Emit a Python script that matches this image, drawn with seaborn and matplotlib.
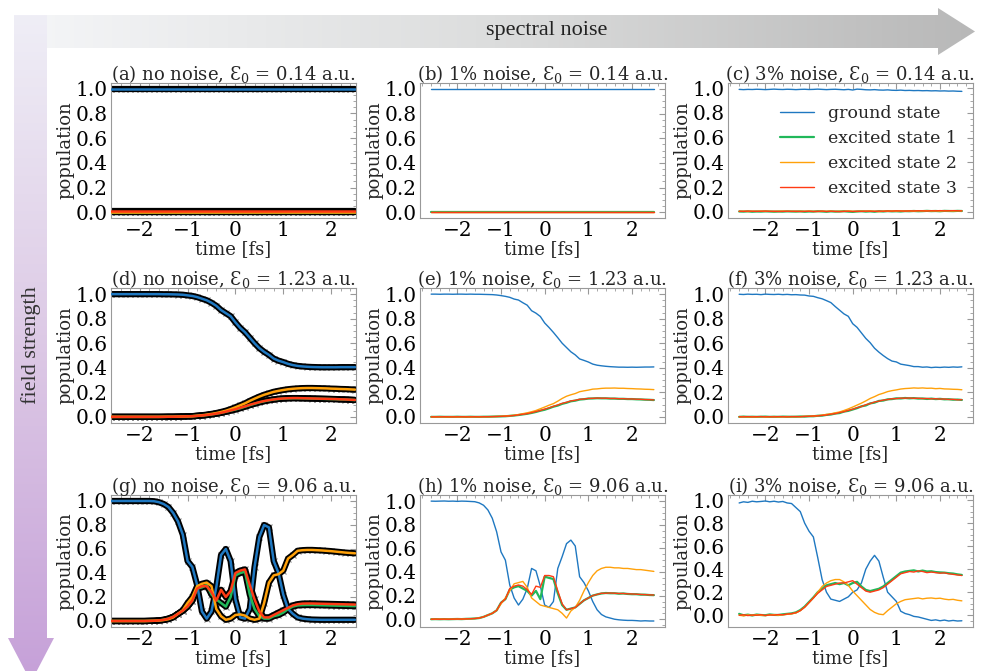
import numpy as np
import matplotlib
matplotlib.use("Agg")
import matplotlib.pyplot as plt
import seaborn as sns
from matplotlib.colors import LinearSegmentedColormap
from matplotlib.patches import Polygon
from matplotlib.ticker import AutoMinorLocator

# time grid (fs), shared by every curve
time_fs = [-2.6, -2.5, -2.4, -2.3, -2.2, -2.1, -2.0, -1.9, -1.8, -1.7, -1.6, -1.5, -1.4,
           -1.3, -1.2, -1.1, -1.0, -0.9, -0.8, -0.7, -0.6, -0.5, -0.4, -0.3, -0.2, -0.1,
           0.0, 0.1, 0.2, 0.3, 0.4, 0.5, 0.6, 0.7, 0.8, 0.9, 1.0, 1.1, 1.2,
           1.3, 1.4, 1.5, 1.6, 1.7, 1.8, 1.9, 2.0, 2.1, 2.2, 2.3, 2.4, 2.5]

state_names = ["ground state", "excited state 1", "excited state 2", "excited state 3"]
state_colors = ["#1f78c1", "#21b85a", "#ffa10a", "#ff3b14"]

# (a) no noise, E0 = 0.14
a_ground = [0.997] * 52
a_exc1 = [0.004] * 52
a_exc2 = [0.006] * 52
a_exc3 = [0.009] * 52

# (b) 1% noise, E0 = 0.14
b_ground = [0.998] * 52
b_exc1 = [0.004] * 52
b_exc2 = [0.005] * 52
b_exc3 = [0.006] * 52

# (c) 3% noise, E0 = 0.14
c_ground = [0.99, 0.988, 0.99, 0.989, 0.991, 0.99, 0.988, 0.99, 0.992, 0.99, 0.989, 0.991, 0.99,
            0.988, 0.99, 0.991, 0.989, 0.99, 0.992, 0.99, 0.988, 0.99, 0.991, 0.989, 0.987, 0.99,
            0.985, 0.992, 0.99, 0.987, 0.986, 0.988, 0.985, 0.984, 0.986, 0.983, 0.982, 0.984, 0.981,
            0.982, 0.98, 0.981, 0.979, 0.98, 0.978, 0.979, 0.977, 0.978, 0.976, 0.977, 0.975, 0.974]
c_exc1 = [0.004, 0.003, 0.005, 0.002, 0.004, 0.003, 0.005, 0.004, 0.002, 0.004, 0.003, 0.005, 0.004,
          0.003, 0.005, 0.002, 0.004, 0.003, 0.006, 0.004, 0.002, 0.005, 0.003, 0.004, 0.006, 0.003,
          0.001, 0.004, 0.006, 0.003, 0.005, 0.002, 0.006, 0.004, 0.007, 0.005, 0.006, 0.004, 0.007,
          0.006, 0.008, 0.006, 0.007, 0.009, 0.007, 0.008, 0.006, 0.009, 0.008, 0.007, 0.009, 0.008]
c_exc2 = [0.005, 0.006, 0.004, 0.006, 0.005, 0.007, 0.005, 0.006, 0.004, 0.006, 0.007, 0.005, 0.006,
          0.004, 0.006, 0.005, 0.007, 0.005, 0.004, 0.006, 0.005, 0.007, 0.004, 0.006, 0.005, 0.008,
          0.006, 0.004, 0.007, 0.005, 0.008, 0.006, 0.003, 0.007, 0.006, 0.008, 0.007, 0.009, 0.007,
          0.008, 0.007, 0.009, 0.008, 0.01, 0.008, 0.009, 0.007, 0.01, 0.009, 0.008, 0.01, 0.009]
c_exc3 = [0.006, 0.005, 0.007, 0.006, 0.005, 0.006, 0.007, 0.005, 0.006, 0.004, 0.005, 0.006, 0.005,
          0.006, 0.004, 0.005, 0.006, 0.004, 0.005, 0.007, 0.004, 0.006, 0.005, 0.003, 0.005, 0.006,
          0.004, 0.006, 0.005, 0.007, 0.006, 0.005, 0.007, 0.006, 0.008, 0.007, 0.009, 0.008, 0.007,
          0.009, 0.008, 0.01, 0.009, 0.008, 0.01, 0.009, 0.011, 0.009, 0.01, 0.011, 0.01, 0.009]

# (d) no noise, E0 = 1.23
d_ground = [1.0, 1.0, 1.0, 1.0, 1.0, 1.0, 1.0, 1.0, 1.0, 1.0, 1.0, 0.999, 0.999,
            0.998, 0.997, 0.995, 0.99, 0.985, 0.976, 0.963, 0.95, 0.93, 0.905, 0.87, 0.845, 0.82,
            0.77, 0.725, 0.69, 0.645, 0.6, 0.56, 0.53, 0.505, 0.475, 0.458, 0.446, 0.432, 0.422,
            0.415, 0.411, 0.408, 0.406, 0.405, 0.404, 0.404, 0.404, 0.404, 0.405, 0.405, 0.405, 0.405]
d_exc1 = [0.0, 0.0, 0.0, 0.0, 0.0, 0.0, 0.0, 0.0, 0.0, 0.0, 0.0, 0.0, 0.001,
          0.001, 0.002, 0.003, 0.004, 0.005, 0.008, 0.011, 0.015, 0.02, 0.026, 0.033, 0.042, 0.051,
          0.06, 0.07, 0.083, 0.095, 0.107, 0.118, 0.127, 0.135, 0.141, 0.146, 0.149, 0.151, 0.152,
          0.152, 0.151, 0.15, 0.149, 0.148, 0.147, 0.146, 0.145, 0.144, 0.142, 0.141, 0.139, 0.137]
d_exc2 = [0.0, 0.0, 0.0, 0.0, 0.0, 0.0, 0.0, 0.0, 0.0, 0.0, 0.0, 0.001, 0.001,
          0.001, 0.002, 0.003, 0.004, 0.006, 0.009, 0.013, 0.018, 0.024, 0.031, 0.04, 0.05, 0.063,
          0.078, 0.094, 0.11, 0.13, 0.148, 0.165, 0.18, 0.192, 0.204, 0.212, 0.219, 0.225, 0.229,
          0.232, 0.234, 0.235, 0.235, 0.234, 0.233, 0.232, 0.23, 0.229, 0.227, 0.226, 0.224, 0.222]
d_exc3 = [0.0, 0.0, 0.0, 0.0, 0.0, 0.0, 0.0, 0.0, 0.0, 0.0, 0.0, 0.0, 0.001,
          0.001, 0.002, 0.003, 0.004, 0.005, 0.008, 0.011, 0.015, 0.02, 0.026, 0.033, 0.042, 0.052,
          0.062, 0.074, 0.085, 0.098, 0.109, 0.12, 0.129, 0.136, 0.142, 0.147, 0.15, 0.152, 0.153,
          0.153, 0.152, 0.151, 0.15, 0.149, 0.148, 0.147, 0.146, 0.145, 0.143, 0.142, 0.14, 0.138]

# (e) 1% noise, E0 = 1.23
e_ground = [1.0, 1.0, 0.999, 1.0, 1.0, 0.999, 1.0, 1.0, 0.999, 1.0, 0.999, 0.999, 0.998,
            0.997, 0.996, 0.993, 0.988, 0.982, 0.974, 0.96, 0.952, 0.93, 0.91, 0.865, 0.845, 0.818,
            0.765, 0.728, 0.688, 0.645, 0.6, 0.565, 0.53, 0.505, 0.472, 0.46, 0.447, 0.43, 0.421,
            0.416, 0.412, 0.409, 0.407, 0.405, 0.405, 0.404, 0.405, 0.404, 0.405, 0.406, 0.406, 0.407]
e_exc1 = [0.0, 0.0, 0.001, 0.0, 0.0, 0.0, 0.001, 0.0, 0.0, 0.001, 0.0, 0.0, 0.001,
          0.001, 0.002, 0.003, 0.004, 0.005, 0.008, 0.011, 0.015, 0.02, 0.025, 0.032, 0.04, 0.05,
          0.058, 0.07, 0.083, 0.092, 0.106, 0.115, 0.127, 0.132, 0.141, 0.144, 0.149, 0.15, 0.152,
          0.151, 0.151, 0.149, 0.149, 0.147, 0.147, 0.145, 0.145, 0.143, 0.142, 0.14, 0.139, 0.137]
e_exc2 = [0.0, 0.0, 0.001, 0.0, 0.0, 0.001, 0.0, 0.0, 0.001, 0.0, 0.001, 0.001, 0.001,
          0.002, 0.002, 0.003, 0.005, 0.007, 0.01, 0.013, 0.019, 0.026, 0.033, 0.042, 0.052, 0.066,
          0.08, 0.095, 0.108, 0.128, 0.15, 0.168, 0.18, 0.19, 0.205, 0.212, 0.218, 0.226, 0.228,
          0.232, 0.234, 0.234, 0.235, 0.233, 0.233, 0.231, 0.23, 0.228, 0.227, 0.225, 0.224, 0.222]
e_exc3 = [0.0, 0.0, 0.0, 0.001, 0.0, 0.0, 0.0, 0.001, 0.0, 0.0, 0.001, 0.0, 0.001,
          0.001, 0.002, 0.003, 0.004, 0.006, 0.008, 0.011, 0.016, 0.021, 0.026, 0.034, 0.043, 0.052,
          0.063, 0.073, 0.086, 0.097, 0.11, 0.119, 0.13, 0.135, 0.143, 0.146, 0.15, 0.151, 0.153,
          0.152, 0.152, 0.15, 0.15, 0.148, 0.148, 0.146, 0.146, 0.144, 0.143, 0.141, 0.14, 0.138]

# (f) 3% noise, E0 = 1.23
f_ground = [1.0, 0.998, 1.001, 0.999, 1.0, 0.997, 1.001, 0.999, 0.998, 1.0, 0.997, 0.999, 0.996,
            0.997, 0.994, 0.993, 0.986, 0.983, 0.972, 0.963, 0.948, 0.932, 0.9, 0.87, 0.84, 0.82,
            0.76, 0.73, 0.685, 0.64, 0.605, 0.56, 0.528, 0.5, 0.475, 0.455, 0.448, 0.43, 0.424,
            0.418, 0.41, 0.41, 0.405, 0.407, 0.402, 0.405, 0.403, 0.406, 0.404, 0.407, 0.405, 0.408]
f_exc1 = [0.0, 0.002, 0.0, 0.001, 0.0, 0.001, 0.002, 0.0, 0.001, 0.0, 0.002, 0.001, 0.001,
          0.001, 0.003, 0.002, 0.005, 0.005, 0.009, 0.01, 0.016, 0.019, 0.027, 0.031, 0.043, 0.049,
          0.06, 0.071, 0.086, 0.093, 0.11, 0.116, 0.13, 0.133, 0.143, 0.145, 0.151, 0.15, 0.154,
          0.151, 0.153, 0.149, 0.15, 0.146, 0.149, 0.145, 0.147, 0.143, 0.144, 0.14, 0.141, 0.138]
f_exc2 = [0.0, 0.002, 0.0, 0.001, 0.0, 0.002, 0.0, 0.001, 0.002, 0.0, 0.001, 0.002, 0.001,
          0.002, 0.002, 0.004, 0.005, 0.007, 0.01, 0.014, 0.02, 0.025, 0.033, 0.04, 0.052, 0.065,
          0.08, 0.096, 0.112, 0.13, 0.15, 0.165, 0.182, 0.193, 0.206, 0.214, 0.22, 0.227, 0.231,
          0.233, 0.236, 0.234, 0.236, 0.233, 0.234, 0.23, 0.232, 0.228, 0.227, 0.225, 0.224, 0.221]
f_exc3 = [0.001, 0.0, 0.002, 0.0, 0.001, 0.002, 0.0, 0.001, 0.0, 0.002, 0.001, 0.0, 0.002,
          0.002, 0.001, 0.004, 0.004, 0.007, 0.008, 0.012, 0.015, 0.022, 0.026, 0.035, 0.042, 0.053,
          0.062, 0.075, 0.084, 0.099, 0.108, 0.121, 0.128, 0.137, 0.141, 0.148, 0.149, 0.153, 0.152,
          0.154, 0.151, 0.152, 0.149, 0.15, 0.147, 0.148, 0.145, 0.146, 0.142, 0.143, 0.139, 0.14]

# (g) no noise, E0 = 9.06
g_ground = [1.0, 1.0, 1.0, 1.0, 1.0, 1.0, 1.0, 1.0, 1.0, 0.998, 0.99, 0.975, 0.95,
            0.9, 0.83, 0.72, 0.5, 0.45, 0.3, 0.08, 0.02, 0.08, 0.28, 0.55, 0.6, 0.5,
            0.18, 0.03, 0.02, 0.1, 0.45, 0.7, 0.8, 0.78, 0.5, 0.4, 0.22, 0.1, 0.06,
            0.03, 0.02, 0.015, 0.012, 0.011, 0.01, 0.01, 0.01, 0.01, 0.01, 0.01, 0.01, 0.01]
g_exc1 = [0.0, 0.0, 0.0, 0.0, 0.0, 0.0, 0.0, 0.0, 0.001, 0.002, 0.005, 0.01, 0.02,
          0.035, 0.06, 0.085, 0.12, 0.17, 0.27, 0.28, 0.3, 0.22, 0.18, 0.15, 0.12, 0.2,
          0.38, 0.4, 0.41, 0.22, 0.1, 0.04, 0.02, 0.02, 0.04, 0.05, 0.07, 0.1, 0.12,
          0.13, 0.132, 0.133, 0.133, 0.132, 0.131, 0.13, 0.129, 0.128, 0.127, 0.126, 0.125, 0.124]
g_exc2 = [0.0, 0.0, 0.0, 0.0, 0.0, 0.0, 0.0, 0.0, 0.001, 0.002, 0.004, 0.008, 0.015,
          0.03, 0.06, 0.09, 0.15, 0.2, 0.29, 0.31, 0.32, 0.29, 0.1, 0.04, 0.01, 0.02,
          0.05, 0.055, 0.045, 0.02, 0.01, 0.02, 0.15, 0.32, 0.38, 0.39, 0.42, 0.52, 0.55,
          0.585, 0.59, 0.592, 0.592, 0.59, 0.588, 0.585, 0.582, 0.578, 0.574, 0.57, 0.567, 0.564]
g_exc3 = [0.0, 0.0, 0.0, 0.0, 0.0, 0.0, 0.0, 0.0, 0.001, 0.002, 0.005, 0.01, 0.02,
          0.035, 0.06, 0.085, 0.12, 0.17, 0.27, 0.29, 0.29, 0.24, 0.17, 0.26, 0.2, 0.25,
          0.4, 0.42, 0.43, 0.3, 0.18, 0.08, 0.03, 0.03, 0.05, 0.07, 0.09, 0.11, 0.13,
          0.14, 0.145, 0.146, 0.146, 0.145, 0.144, 0.143, 0.142, 0.141, 0.14, 0.139, 0.138, 0.137]

# (h) 1% noise, E0 = 9.06
h_ground = [1.0, 0.999, 1.0, 1.001, 0.999, 1.0, 0.998, 1.0, 0.999, 0.997, 0.995, 0.985, 0.965,
            0.925, 0.855, 0.74, 0.57, 0.5, 0.29, 0.18, 0.12, 0.17, 0.26, 0.43, 0.41, 0.28,
            0.12, 0.1, 0.15, 0.43, 0.53, 0.64, 0.67, 0.62, 0.36, 0.31, 0.24, 0.15, 0.08,
            0.04, 0.02, 0.01, 0.0, -0.005, -0.008, -0.01, -0.01, -0.012, -0.015, -0.013, -0.015, -0.015]
h_exc1 = [0.0, 0.001, 0.0, 0.001, 0.0, 0.001, 0.002, 0.001, 0.003, 0.004, 0.006, 0.01, 0.02,
          0.035, 0.05, 0.075, 0.14, 0.17, 0.25, 0.27, 0.28, 0.26, 0.24, 0.2, 0.24, 0.17,
          0.36, 0.35, 0.34, 0.22, 0.12, 0.08, 0.09, 0.1, 0.13, 0.16, 0.18, 0.2, 0.21,
          0.218, 0.222, 0.22, 0.22, 0.216, 0.218, 0.214, 0.212, 0.212, 0.208, 0.208, 0.205, 0.204]
h_exc2 = [0.0, 0.0, 0.001, 0.0, 0.001, 0.0, 0.002, 0.001, 0.003, 0.004, 0.006, 0.01, 0.02,
          0.035, 0.05, 0.075, 0.13, 0.18, 0.24, 0.3, 0.31, 0.32, 0.27, 0.18, 0.15, 0.12,
          0.11, 0.1, 0.09, 0.08, 0.05, 0.01, 0.07, 0.1, 0.16, 0.24, 0.31, 0.37, 0.41,
          0.43, 0.44, 0.44, 0.435, 0.435, 0.43, 0.43, 0.425, 0.42, 0.42, 0.415, 0.41, 0.405]
h_exc3 = [0.0, 0.001, 0.0, 0.001, 0.0, 0.001, 0.002, 0.001, 0.003, 0.004, 0.006, 0.01, 0.02,
          0.035, 0.05, 0.075, 0.14, 0.17, 0.26, 0.28, 0.29, 0.28, 0.25, 0.21, 0.28, 0.27,
          0.37, 0.37, 0.36, 0.24, 0.13, 0.08, 0.09, 0.1, 0.13, 0.16, 0.18, 0.2, 0.21,
          0.22, 0.22, 0.222, 0.22, 0.218, 0.218, 0.215, 0.214, 0.212, 0.21, 0.208, 0.206, 0.205]

# (i) 3% noise, E0 = 9.06
i_ground = [0.975, 0.985, 0.98, 0.99, 0.985, 0.988, 0.992, 0.985, 0.99, 0.983, 0.988, 0.975, 0.97,
            0.935, 0.9, 0.8, 0.73, 0.68, 0.5, 0.31, 0.2, 0.14, 0.13, 0.12, 0.14, 0.16,
            0.2, 0.22, 0.28, 0.4, 0.47, 0.52, 0.47, 0.33, 0.2, 0.16, 0.12, 0.035, 0.015,
            0.005, -0.01, -0.015, -0.025, -0.035, -0.045, -0.04, -0.048, -0.042, -0.05, -0.045, -0.05, -0.048]
i_exc1 = [0.012, 0.0, 0.005, -0.002, 0.006, 0.002, 0.0, 0.007, 0.003, 0.002, 0.008, 0.012, 0.016,
          0.025, 0.045, 0.075, 0.115, 0.155, 0.2, 0.23, 0.26, 0.27, 0.28, 0.27, 0.28, 0.26,
          0.28, 0.29, 0.25, 0.22, 0.21, 0.22, 0.23, 0.25, 0.28, 0.31, 0.34, 0.37, 0.38,
          0.385, 0.39, 0.38, 0.388, 0.38, 0.382, 0.375, 0.372, 0.37, 0.365, 0.362, 0.355, 0.35]
i_exc2 = [0.0, -0.005, 0.003, -0.002, 0.004, 0.0, -0.003, 0.002, 0.005, 0.0, 0.004, 0.008, 0.012,
          0.02, 0.04, 0.07, 0.11, 0.15, 0.2, 0.25, 0.28, 0.3, 0.31, 0.31, 0.29, 0.26,
          0.21, 0.17, 0.13, 0.09, 0.05, 0.025, 0.01, 0.005, 0.04, 0.07, 0.1, 0.12, 0.135,
          0.14, 0.145, 0.15, 0.142, 0.148, 0.15, 0.145, 0.148, 0.14, 0.135, 0.138, 0.13, 0.125]
i_exc3 = [0.0, 0.004, -0.003, 0.002, 0.0, 0.005, -0.002, 0.003, 0.001, 0.006, 0.004, 0.01, 0.014,
          0.022, 0.04, 0.07, 0.11, 0.15, 0.19, 0.22, 0.25, 0.26, 0.27, 0.28, 0.28, 0.29,
          0.3, 0.27, 0.24, 0.21, 0.2, 0.21, 0.22, 0.24, 0.27, 0.3, 0.33, 0.36, 0.37,
          0.38, 0.375, 0.385, 0.38, 0.37, 0.375, 0.37, 0.365, 0.368, 0.36, 0.355, 0.35, 0.345]

panel_titles = [
    "(a) no noise, Ɛ$_0$ = 0.14 a.u.", "(b) 1% noise, Ɛ$_0$ = 0.14 a.u.", "(c) 3% noise, Ɛ$_0$ = 0.14 a.u.",
    "(d) no noise, Ɛ$_0$ = 1.23 a.u.", "(e) 1% noise, Ɛ$_0$ = 1.23 a.u.", "(f) 3% noise, Ɛ$_0$ = 1.23 a.u.",
    "(g) no noise, Ɛ$_0$ = 9.06 a.u.", "(h) 1% noise, Ɛ$_0$ = 9.06 a.u.", "(i) 3% noise, Ɛ$_0$ = 9.06 a.u.",
]
panel_data = [
    [a_ground, a_exc1, a_exc2, a_exc3], [b_ground, b_exc1, b_exc2, b_exc3], [c_ground, c_exc1, c_exc2, c_exc3],
    [d_ground, d_exc1, d_exc2, d_exc3], [e_ground, e_exc1, e_exc2, e_exc3], [f_ground, f_exc1, f_exc2, f_exc3],
    [g_ground, g_exc1, g_exc2, g_exc3], [h_ground, h_exc1, h_exc2, h_exc3], [i_ground, i_exc1, i_exc2, i_exc3],
]
for curves in panel_data:
    for c in curves:
        assert len(c) == len(time_fs), len(c)

sns.set_style("white")
plt.rcParams["font.family"] = ["DejaVu Serif"]
plt.rcParams["mathtext.fontset"] = "dejavuserif"

W, H = 982, 671
fig = plt.figure(figsize=(W / 100, H / 100), dpi=100)

# background arrows, drawn in pixel coordinates
bg = fig.add_axes([0, 0, 1, 1], zorder=-5)
h_cmap = LinearSegmentedColormap.from_list("h", ["#f5f6f8", "#dcdddd", "#b8b8b8"])
v_cmap = LinearSegmentedColormap.from_list("v", ["#efeef6", "#dcc8e5", "#c59fd8"])
ramp = np.linspace(0, 1, 256)
im_h = bg.imshow(ramp.reshape(1, -1), cmap=h_cmap, extent=[14, 976, 56, 8], aspect="auto")
im_h.set_clip_path(Polygon([(14, 15), (938, 15), (938, 8), (975, 31.5), (938, 55), (938, 48), (14, 48)],
                           closed=True, transform=bg.transData))
im_v = bg.imshow(ramp.reshape(-1, 1), cmap=v_cmap, extent=[8, 55, 690, 15], aspect="auto")
im_v.set_clip_path(Polygon([(14, 15), (47, 15), (47, 638), (54, 638), (31, 682), (8, 638), (14, 638)],
                           closed=True, transform=bg.transData))
bg.set_xlim(0, W)
bg.set_ylim(H, 0)
bg.axis("off")
bg.text(547, 31, "spectral noise", ha="center", va="center", fontsize=16,
        family="Liberation Serif", color="#222222")
bg.text(31, 345, "field strength", ha="center", va="center", rotation=90, fontsize=16,
        family="Liberation Serif", color="#333333")

col_left = [111, 420, 728]
col_width = 245
row_top = [83, 288, 495]
row_height = [135, 135, 132]

for k in range(9):
    r, c = divmod(k, 3)
    ax = fig.add_axes([col_left[c] / W, 1 - (row_top[r] + row_height[r]) / H,
                       col_width / W, row_height[r] / H])
    clean = c == 0
    for s, vals in enumerate(panel_data[k]):
        color = state_colors[s]
        if clean:
            ax.plot(time_fs, vals, "x", color="0.55", ms=5, mew=0.8, zorder=1)
            sns.lineplot(x=time_fs, y=vals, ax=ax, color="black", lw=4.5, zorder=2,
                         legend=False, errorbar=None)
            sns.lineplot(x=time_fs, y=vals, ax=ax, color=color, lw=1.8, zorder=3,
                         legend=False, errorbar=None)
        else:
            sns.lineplot(x=time_fs, y=vals, ax=ax, color=color, lw=1.6 if s == 1 else 1.0,
                         zorder=3 + s, legend=False, errorbar=None, label=state_names[s])
    if clean:
        ax.set_xlim(-2.6, 2.52)
    ax.set_xticks([-2, -1, 0, 1, 2])
    ax.set_yticks([0.0, 0.2, 0.4, 0.6, 0.8, 1.0])
    ax.xaxis.set_minor_locator(AutoMinorLocator())
    ax.yaxis.set_minor_locator(AutoMinorLocator())
    ax.tick_params(which="both", direction="in", top=True, right=True, colors="0.6",
                   labelcolor="black", labelsize=14.5, pad=2.5)
    ax.tick_params(which="major", length=4)
    ax.tick_params(which="minor", length=2)
    for sp in ax.spines.values():
        sp.set_color("0.6")
        sp.set_linewidth(0.8)
    ax.set_xlabel("time [fs]", fontsize=13, labelpad=0)
    ax.set_ylabel("population", fontsize=13, labelpad=1)
    ax.set_title(panel_titles[k], fontsize=13, pad=2)
    if k == 2:
        ax.legend(loc="upper right", bbox_to_anchor=(1.0, 0.95), frameon=False, fontsize=12.5,
                  handlelength=2.0, handletextpad=0.8, labelspacing=0.45)

fig.savefig("out.png", dpi=100, facecolor="white")
